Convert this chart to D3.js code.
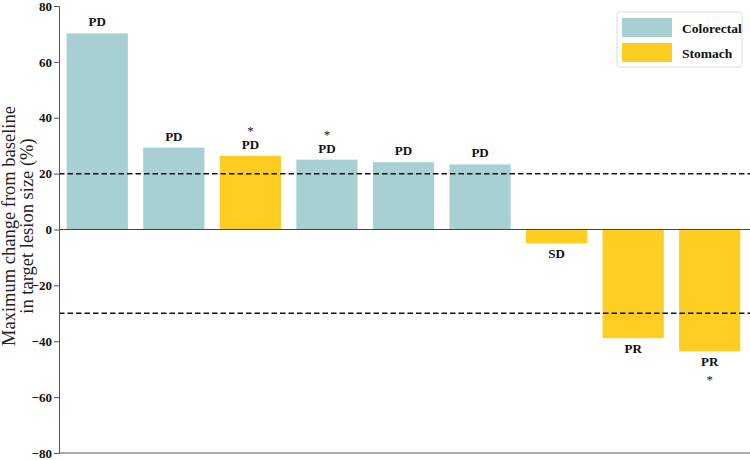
<!DOCTYPE html>
<html>
<head>
<meta charset="utf-8">
<script src="https://cdn.jsdelivr.net/npm/d3@7"></script>
<style>
  body { margin: 0; background: #fff; }
  svg text { font-family: "Liberation Serif", "Times New Roman", serif; }
</style>
</head>
<body>
<div id="chart"></div>
<script>
// bars, left to right
var patients = ["P1", "P2", "P3", "P4", "P5", "P6", "P7", "P8", "P9"];
var changes = [70.2, 29.3, 26.4, 25.0, 24.1, 23.3, -5.0, -38.9, -43.6];
var cancerType = ["Colorectal", "Colorectal", "Stomach", "Colorectal", "Colorectal", "Colorectal", "Stomach", "Stomach", "Stomach"];
var responses = ["PD", "PD", "PD", "PD", "PD", "PD", "SD", "PR", "PR"];
var starred = [false, false, true, true, false, false, false, false, true];
var yTicks = [-80, -60, -40, -20, 0, 20, 40, 60, 80];
var thresholds = [20, -30];

var colors = { Colorectal: "#a8d0d3", Stomach: "#fdcd22" };
var serif = "Liberation Serif, Times New Roman, serif";

var width = 750, height = 460;
var margin = { top: 6, right: 2, bottom: 7, left: 59 };

var svg = d3.select("#chart").append("svg")
  .attr("width", width)
  .attr("height", height);

var x = d3.scaleBand()
  .domain(patients)
  .range([margin.left, 748])
  .paddingInner(0.2)
  .paddingOuter(0.1);

var y = d3.scaleLinear()
  .domain([-80, 80])
  .range([height - margin.bottom, margin.top]);

// bars
svg.append("g").selectAll("rect")
  .data(changes)
  .join("rect")
  .attr("x", (d, i) => x(patients[i]))
  .attr("width", x.bandwidth())
  .attr("y", d => y(Math.max(0, d)))
  .attr("height", d => Math.abs(y(d) - y(0)))
  .attr("fill", (d, i) => colors[cancerType[i]]);

// zero line
svg.append("line")
  .attr("x1", margin.left).attr("x2", width)
  .attr("y1", y(0)).attr("y2", y(0))
  .attr("stroke", "#444").attr("stroke-width", 1);

// threshold lines
svg.append("g").selectAll("line")
  .data(thresholds)
  .join("line")
  .attr("x1", margin.left).attr("x2", width)
  .attr("y1", d => y(d)).attr("y2", d => y(d))
  .attr("stroke", "#111")
  .attr("stroke-width", 1.5)
  .attr("stroke-dasharray", "5.5,3");

// response labels
var labels = svg.append("g")
  .attr("font-family", serif)
  .attr("font-size", 13)
  .attr("font-weight", "bold")
  .attr("text-anchor", "middle")
  .attr("fill", "#111");

changes.forEach(function(d, i) {
  var cx = x(patients[i]) + x.bandwidth() / 2;
  if (d >= 0) {
    labels.append("text").attr("x", cx).attr("y", y(d) - 7).text(responses[i]);
    if (starred[i]) labels.append("text").attr("x", cx).attr("y", y(d) - 21).attr("font-weight", "normal").text("*");
  } else {
    labels.append("text").attr("x", cx).attr("y", y(d) + 15).text(responses[i]);
    if (starred[i]) labels.append("text").attr("x", cx).attr("y", y(d) + 33).attr("font-weight", "normal").text("*");
  }
});

// y axis
var yAxis = svg.append("g")
  .attr("transform", `translate(${margin.left},0)`)
  .call(d3.axisLeft(y).tickValues(yTicks).tickSize(5).tickPadding(2).tickFormat(d => d < 0 ? "\u2212" + Math.abs(d) : d));
yAxis.attr("font-family", serif);
yAxis.select(".domain").attr("stroke", "#555");
yAxis.selectAll(".tick line").attr("stroke", "#555");
yAxis.selectAll(".tick text")
  .attr("font-family", serif)
  .attr("font-size", 13)
  .attr("font-weight", "bold")
  .attr("fill", "#111");

// bottom spine
svg.append("line")
  .attr("x1", margin.left).attr("x2", width)
  .attr("y1", y(-80)).attr("y2", y(-80))
  .attr("stroke", "#555").attr("stroke-width", 1);

// y axis title
var title = svg.append("text")
  .attr("transform", "translate(15,226) rotate(-90)")
  .attr("text-anchor", "middle")
  .attr("font-family", serif)
  .attr("font-size", 18.5)
  .attr("fill", "#222");
title.append("tspan").attr("x", 0).attr("dy", 0).text("Maximum change from baseline");
title.append("tspan").attr("x", 0).attr("dy", 17.5).text("in target lesion size (%)");

// legend
var legend = svg.append("g").attr("transform", "translate(617,12)");
legend.append("rect")
  .attr("width", 125).attr("height", 55).attr("rx", 3)
  .attr("fill", "#fff").attr("stroke", "#ddd");
var legendItems = ["Colorectal", "Stomach"];
legend.selectAll("g.item")
  .data(legendItems)
  .join("g")
  .attr("class", "item")
  .attr("transform", (d, i) => `translate(5,${6 + i * 25})`)
  .each(function(d) {
    var g = d3.select(this);
    g.append("rect").attr("width", 50).attr("height", 19).attr("fill", colors[d]);
    g.append("text").attr("x", 60).attr("y", 14.5)
      .attr("font-family", serif)
      .attr("font-size", 13.5).attr("font-weight", "bold").attr("fill", "#111").text(d);
  });
</script>
</body>
</html>
